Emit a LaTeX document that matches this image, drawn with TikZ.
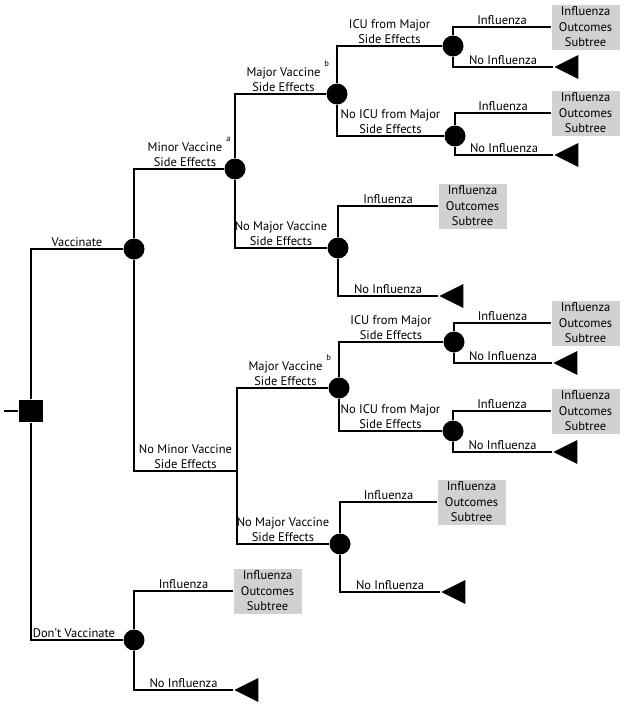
\documentclass[tikz,border=0pt]{standalone}
\usepackage{fontspec}
\setmainfont{PT Sans}
\usetikzlibrary{shapes.geometric}
\newcommand{\fnmark}[1]{\rlap{\hspace{4pt}\raisebox{10pt}{\fontsize{8.5}{9}\selectfont #1}}}

\begin{document}
\begin{tikzpicture}[x=1pt, y=-1pt, line width=1.1pt,
  font=\fontsize{12.5}{15.5}\selectfont,
  chance/.style={circle, fill=black, minimum size=21pt, inner sep=0pt},
  decision/.style={rectangle, fill=black, minimum width=24pt, minimum height=22pt, inner sep=0pt},
  subtree/.style={rectangle, fill=black!18, minimum width=68pt, minimum height=45pt, inner sep=1pt, align=center, anchor=west},
  terminal/.style={isosceles triangle, isosceles triangle stretches, shape border rotate=180, fill=black, minimum width=24pt, minimum height=24pt, inner sep=0pt, anchor=apex},
  lbl/.style={pos=0.75, above, inner sep=1.5pt, align=center}]
  \useasboundingbox (0,0) rectangle (627,707);
  \coordinate (root) at (4,411);
  \node[decision] (dec) at (31,411) {};
  \node[chance] (c1) at (134,249) {};
  \node[chance] (c2) at (235,169) {};
  \node[chance] (c3) at (337,94) {};
  \node[chance] (c4) at (453,46) {};
  \node[chance] (c5) at (455,136) {};
  \node[chance] (c6) at (338,248) {};
  \coordinate (j1) at (237,471);
  \node[chance] (c7) at (339,388) {};
  \node[chance] (c8) at (454,342) {};
  \node[chance] (c9) at (453,431) {};
  \node[chance] (c10) at (340,544) {};
  \node[chance] (c11) at (134,640) {};

  \draw (root) -- (dec);
  \draw (dec) |- node[lbl] {Vaccinate} (c1);
  \draw (dec) |- node[lbl, xshift=-3pt] {Don't Vaccinate} (c11);
  \draw (c1) |- node[lbl, xshift=6pt] {Minor Vaccine\fnmark{a}\\Side Effects} (c2);
  \draw (c1) |- node[lbl] {No Minor Vaccine\\Side Effects} (j1);
  \draw (c2) |- node[lbl, xshift=3pt] {Major Vaccine\fnmark{b}\\Side Effects} (c3);
  \draw (c2) |- node[lbl] {No Major Vaccine\\Side Effects} (c6);
  \draw (c3) |- node[lbl] {ICU from Major\\Side Effects} (c4);
  \draw (c3) |- node[lbl] {No ICU from Major\\Side Effects} (c5);
  \draw (j1) |- node[lbl, xshift=3pt] {Major Vaccine\fnmark{b}\\Side Effects} (c7);
  \draw (j1) |- node[lbl] {No Major Vaccine\\Side Effects} (c10);
  \draw (c7) |- node[lbl] {ICU from Major\\Side Effects} (c8);
  \draw (c7) |- node[lbl] {No ICU from Major\\Side Effects} (c9);

  \foreach \ch/\bx/\by/\tx/\ty in {c4/551/27/553/67, c5/551/113/553/155,
      c6/438/206/438/296, c8/551/323/552/363, c9/551/411/552/452,
      c10/437/502/440/592, c11/233/591/233/690} {
    \node[subtree] (\ch-box) at (\bx,\by) {Influenza\\Outcomes\\Subtree};
    \node[terminal] (\ch-end) at (\tx,\ty) {};
    \draw (\ch) |- node[lbl] {Influenza} (\ch-box);
    \draw (\ch) |- node[lbl] {No Influenza} (\ch-end);
  }
\end{tikzpicture}
\end{document}
